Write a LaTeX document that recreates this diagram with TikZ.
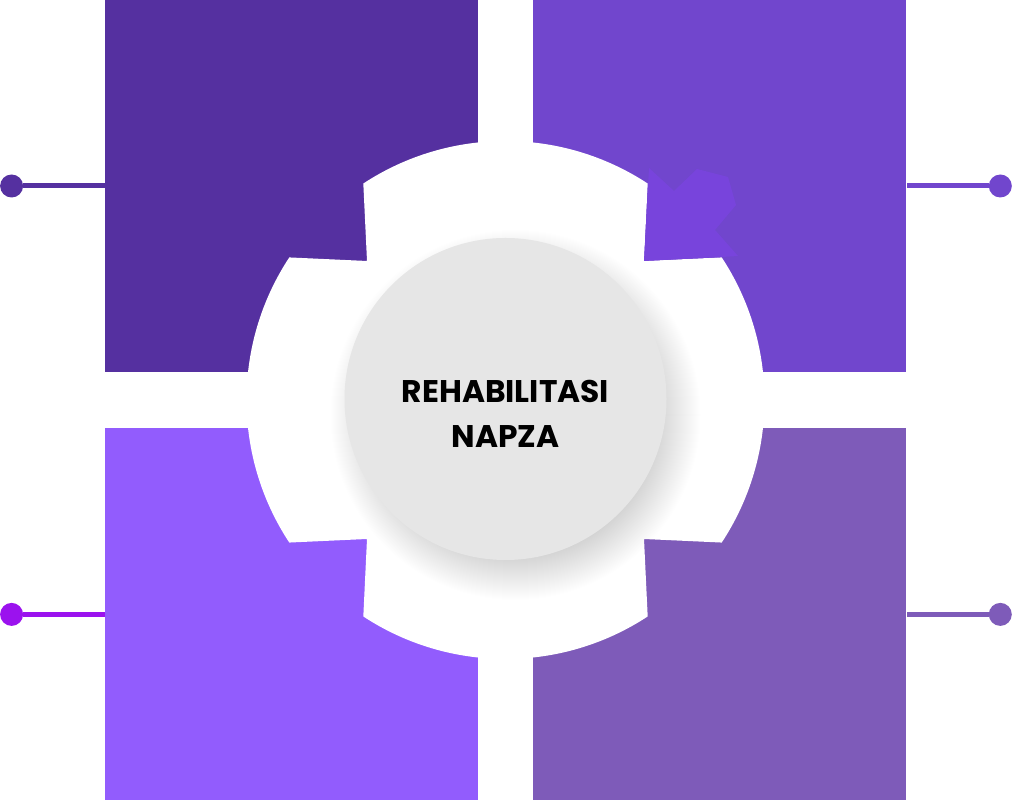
\documentclass[tikz,border=0pt]{standalone}
\usepackage{fontspec}
\newfontfamily\poppins{Poppins}
\usetikzlibrary{positioning}
\usetikzlibrary{calc}
\definecolor{tileA}{HTML}{5530A0}
\definecolor{tileB}{HTML}{7146CD}
\definecolor{tileC}{HTML}{925CFD}
\definecolor{tileD}{HTML}{7E5BB9}
\definecolor{dotC}{HTML}{9B12EE}
\definecolor{flagB}{HTML}{7844DC}
\definecolor{hubgrey}{HTML}{E6E6E6}
\tikzset{
  tile/.style={rectangle, inner sep=0pt, minimum width=373pt, minimum height=372pt},
  pin/.style={circle, inner sep=0pt, minimum size=23pt},
  lnk/.style={line width=5pt},
  hub/.style={circle, fill=hubgrey, inner sep=0pt, minimum size=322pt},
}
% outline of the white cross round the hub
\newcommand{\crossoutline}{($(O)+(123.3:259)$) arc[start angle=123.3, end angle=56.7, radius=259]
  -- (644,541) -- ($(O)+(33.4:259)$) arc[start angle=33.4, end angle=-33.4, radius=259]
  -- (644,263) -- ($(O)+(-56.7:259)$) arc[start angle=-56.7, end angle=-123.3, radius=259]
  -- (367,263) -- ($(O)+(-146.6:259)$) arc[start angle=-146.6, end angle=-213.4, radius=259]
  -- (367,541) -- cycle}

\begin{document}
\begin{tikzpicture}[x=1pt, y=1pt, node distance=56pt and 55pt]
            \useasboundingbox (0,0) rectangle (1012,802);
            \node[tile, fill=tileA] (T1) at (291.5,616) {};
            \node[tile, fill=tileB] (T2) [right=of T1] {};
            \node[tile, fill=tileC] (T3) [below=of T1] {};
            \node[tile, fill=tileD] (T4) [below=of T2] {};
            \node[pin, fill=tileA] (P1) [left=81.5pt of T1] {};
            \node[pin, fill=tileB] (P2) [right=82pt of T2] {};
            \node[pin, fill=dotC] (P3) [left=81.5pt of T3] {};
            \node[pin, fill=tileD] (P4) [right=82pt of T4] {};
            \path[lnk]
            (P1) edge[tileA] (T1.west)
            (P2) edge[tileB] (T2.east)
            (P3) edge[dotC] (T3.west)
            (P4) edge[tileD] (T4.east);
            \coordinate (O) at (505.5,402);
            \fill[white] \crossoutline;
            \fill[flagB] (649,634) -- (674,611) -- (697,633) -- (728,625) -- (736,597)
              -- (715,572) -- (738,546) -- (722,545) -- (644,541) -- cycle;
            % soft shadow, kept inside the cross
            \begin{scope}
              \clip \crossoutline;
              \coordinate (S) at (515.5,387);
              \foreach \r in {140,...,185}
                \fill[black, opacity=0.0058] (S) circle[radius=\r];
            \end{scope}
            \node[hub] (H) at (505.5,403) {};
            \node[align=center, inner sep=0pt, font=\poppins\bfseries\fontsize{31.3}{45}\selectfont]
              (L) at ($(H)+(0,-15)$) {REHABILITASI\\NAPZA};
        \end{tikzpicture}
\end{document}
